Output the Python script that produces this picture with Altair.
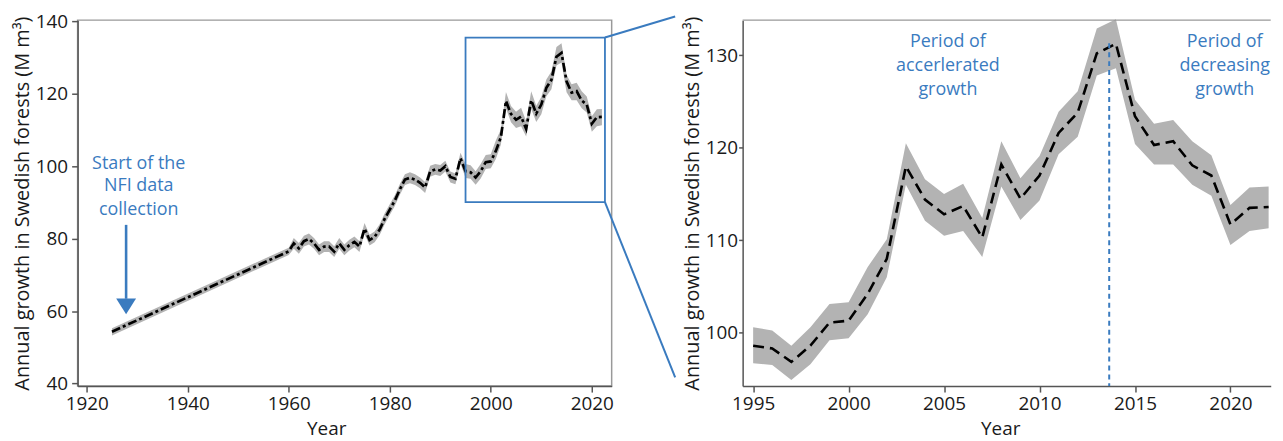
import altair as alt
import pandas as pd

# ---------------- data ----------------
years = [1925, 1960, 1961, 1962, 1963, 1964, 1965, 1966, 1967, 1968, 1969,
         1970, 1971, 1972, 1973, 1974, 1975, 1976, 1977, 1978, 1979,
         1980, 1981, 1982, 1983, 1984, 1985, 1986, 1987, 1988, 1989,
         1990, 1991, 1992, 1993, 1994, 1995, 1996, 1997, 1998, 1999,
         2000, 2001, 2002, 2003, 2004, 2005, 2006, 2007, 2008, 2009,
         2010, 2011, 2012, 2013, 2014, 2015, 2016, 2017, 2018, 2019,
         2020, 2021, 2022]
growth = [54.3, 76.5, 78.7, 77.3, 79.3, 79.9, 78.7, 76.9, 77.8, 77.8, 76.4,
          78.7, 76.9, 78.2, 79.1, 77.8, 82.8, 79.6, 80.5, 82.5, 85.5,
          88.0, 90.5, 93.6, 96.3, 96.8, 96.3, 95.4, 94.1, 98.6, 99.1,
          98.8, 100.0, 97.0, 96.5, 102.2, 98.6, 98.3, 96.85, 98.6, 101.1,
          101.3, 104.2, 108.0, 118.0, 114.4, 112.8, 113.7, 110.3, 118.2, 114.5,
          117.0, 121.6, 123.8, 130.2, 131.25, 123.4, 120.3, 120.7, 118.1, 117.0,
          111.7, 113.5, 113.6]
lower = [53.3, 75.5, 77.2, 75.8, 77.8, 78.4, 77.2, 75.4, 76.3, 76.3, 74.9,
         77.2, 75.4, 76.7, 77.6, 76.3, 81.3, 78.1, 79.0, 81.0, 84.0,
         86.5, 89.0, 92.1, 94.8, 95.3, 94.8, 93.9, 92.6, 97.1, 97.6,
         97.3, 98.5, 95.5, 95.0, 100.7, 96.7, 96.5, 94.9, 96.6, 99.2,
         99.4, 102.0, 106.0, 116.0, 112.1, 110.5, 111.0, 108.2, 115.8, 112.2,
         114.3, 119.3, 121.2, 127.8, 128.6, 120.4, 118.2, 118.2, 116.0, 114.8,
         109.5, 111.0, 111.3]
upper = [55.3, 77.5, 80.2, 78.8, 80.8, 81.4, 80.2, 78.4, 79.3, 79.3, 77.9,
         80.2, 78.4, 79.7, 80.6, 79.3, 84.3, 81.1, 82.0, 84.0, 87.0,
         89.5, 92.0, 95.1, 97.8, 98.3, 97.8, 96.9, 95.6, 100.1, 100.6,
         100.3, 101.5, 98.5, 98.0, 103.7, 100.6, 100.25, 98.6, 100.6, 103.1,
         103.3, 107.1, 110.1, 120.5, 116.6, 115.0, 116.1, 112.4, 120.7, 116.7,
         119.1, 123.9, 126.1, 132.9, 133.9, 125.2, 122.6, 123.0, 120.7, 119.2,
         113.8, 115.7, 115.8]

left_xticks = [1920, 1940, 1960, 1980, 2000, 2020]
left_yticks = [40, 60, 80, 100, 120, 140]
right_xticks = [1995, 2000, 2005, 2010, 2015, 2020]
right_yticks = [100, 110, 120, 130]

# zoom box and its connector lines (left panel data units)
box_x = [1995.0, 2022.6]
box_y = [90.07, 135.5]
conn_x = [2022.6, 2022.6]
conn_x2 = [2036.5, 2036.5]
conn_y = [135.5, 90.07]
conn_y2 = [141.3, 41.74]

# "Start of the NFI data collection" annotation
nfi_lines = ["Start of the", "NFI data", "collection"]
nfi_x = 1930.3
nfi_y = [100.66, 94.41, 87.9]
arrow_x = 1927.8
arrow_top = 83.8
arrow_shaft_end = 63.4
arrow_head_y = 61.3

# right-panel annotations
acc_lines = ["Period of", "accerlerated", "growth"]
acc_x = 2005.2
dec_lines = ["Period of", "decreasing", "growth"]
dec_x = 2019.7
period_y = [131.38, 128.85, 126.27]
peak_year = 2013.65
peak_top = 131.3

# ---------------- frames ----------------
df = pd.DataFrame({"year": years, "growth": growth, "lower": lower, "upper": upper})
dz = df[df["year"] >= 1995]
box_df = pd.DataFrame({"x": [box_x[0]], "x2": [box_x[1]], "y": [box_y[0]], "y2": [box_y[1]]})
conn_df = pd.DataFrame({"x": conn_x, "x2": conn_x2, "y": conn_y, "y2": conn_y2})
nfi_df = pd.DataFrame({"x": [nfi_x] * 3, "y": nfi_y, "t": nfi_lines})
shaft_df = pd.DataFrame({"x": [arrow_x], "y": [arrow_top], "y2": [arrow_shaft_end]})
head_df = pd.DataFrame({"x": [arrow_x], "y": [arrow_head_y]})
per_df = pd.DataFrame({"x": [acc_x] * 3 + [dec_x] * 3, "y": period_y * 2, "t": acc_lines + dec_lines})
peak_df = pd.DataFrame({"x": [peak_year], "y": [peak_top], "y2": [94.23]})
one_df = pd.DataFrame({"a": [0]})

BLUE = "#3a7bbf"
BAND = "#b3b3b3"
FONT = "Open Sans"
YTITLE = "Annual growth in Swedish forests (M m³)"

# ---------------- left panel ----------------
LW, LH = 537, 368
lxs = alt.Scale(domain=[1918.2, 2023.93], nice=False, zero=False)
lys = alt.Scale(domain=[39.3, 140.3], nice=False, zero=False)
lxa = alt.Axis(values=left_xticks, format="d", title="Year", tickSize=6,
               labelPadding=3, titlePadding=6, titleX=250, grid=False)
lya = alt.Axis(values=left_yticks, title=YTITLE, tickSize=6, titleFontSize=20,
               labelPadding=4, titlePadding=3, grid=False)


def LX(f):
    return alt.X(f"{f}:Q", scale=lxs, axis=lxa)


def LY(f):
    return alt.Y(f"{f}:Q", scale=lys, axis=lya)


l_band = alt.Chart(df).mark_area(color=BAND, opacity=1).encode(
    x=LX("year"), y=LY("lower"), y2="upper:Q")
l_line = alt.Chart(df).mark_line(color="black", strokeWidth=2.7,
                                 strokeDash=[9, 3, 3, 3]).encode(
    x=LX("year"), y=LY("growth"))
l_box = alt.Chart(box_df).mark_rect(fill="transparent", stroke=BLUE,
                                    strokeWidth=1.8).encode(
    x=LX("x"), x2="x2:Q", y=LY("y"), y2="y2:Q")
l_conn = alt.Chart(conn_df).mark_rule(color=BLUE, strokeWidth=2).encode(
    x=LX("x"), x2="x2:Q", y=LY("y"), y2="y2:Q")
l_shaft = alt.Chart(shaft_df).mark_rule(color=BLUE, strokeWidth=2.6).encode(
    x=LX("x"), y=LY("y"), y2="y2:Q")
l_head = alt.Chart(head_df).mark_point(shape="M-1,-0.8L1,-0.8L0,0.8Z", size=400,
                                       filled=True, color=BLUE, opacity=1).encode(
    x=LX("x"), y=LY("y"))
l_text = alt.Chart(nfi_df).mark_text(color=BLUE, font=FONT, fontSize=18).encode(
    x=LX("x"), y=LY("y"), text="t:N")

left = alt.layer(l_band, l_line, l_box, l_conn, l_shaft, l_head, l_text).properties(
    width=LW, height=LH)

# ---------------- right panel ----------------
RW, RH = 531, 368
rxs = alt.Scale(domain=[1994.45, 2022.11], nice=False, zero=False)
rys = alt.Scale(domain=[94.23, 133.8], nice=False, zero=False)
rxa = alt.Axis(values=right_xticks, format="d", title="Year", tickSize=6,
               labelPadding=3, titlePadding=6, titleX=259, grid=False)
rya = alt.Axis(values=right_yticks, title=YTITLE, tickSize=4, titleFontSize=20,
               labelPadding=1, titlePadding=3, grid=False)


def RX(f):
    return alt.X(f"{f}:Q", scale=rxs, axis=rxa)


def RY(f):
    return alt.Y(f"{f}:Q", scale=rys, axis=rya)


r_band = alt.Chart(dz).mark_area(color=BAND, opacity=1).encode(
    x=RX("year"), y=RY("lower"), y2="upper:Q")
r_line = alt.Chart(dz).mark_line(color="black", strokeWidth=2.6,
                                 strokeDash=[11, 6]).encode(
    x=RX("year"), y=RY("growth"))
r_peak = alt.Chart(peak_df).mark_rule(color=BLUE, strokeWidth=2,
                                      strokeDash=[5, 4]).encode(
    x=RX("x"), y=RY("y"), y2="y2:Q")
r_text = alt.Chart(per_df).mark_text(color=BLUE, font=FONT, fontSize=18).encode(
    x=RX("x"), y=RY("y"), text="t:N")
r_top = alt.Chart(one_df).mark_rule(color="#999999", strokeWidth=1.5).encode(
    x=alt.value(0), x2=alt.value(RW), y=alt.value(0))

right = alt.layer(r_band, r_line, r_peak, r_text, r_top).properties(
    width=RW, height=RH, view=alt.ViewBackground(stroke="transparent"))

chart = alt.hconcat(left, right, spacing=131.7, bounds="flush").properties(
    padding={"left": 3, "top": 2, "right": 0, "bottom": 0}
).configure_view(
    stroke="#999999", strokeWidth=1.5
).configure_axis(
    domainColor="#555555", domainWidth=1.5, tickColor="#555555", tickWidth=1.5,
    labelColor="#1a1a1a", titleColor="#1a1a1a", labelFont=FONT, titleFont=FONT,
    labelFontSize=19, titleFontSize=19, titleFontWeight="normal", grid=False
)

chart.save("out.html", embed_options={"renderer": "svg", "actions": False})
